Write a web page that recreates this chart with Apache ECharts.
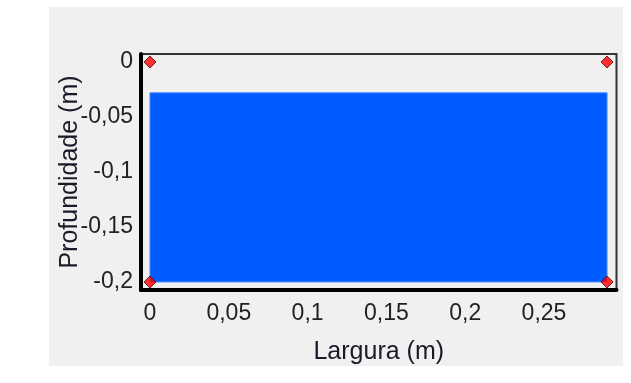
<!DOCTYPE html>
<html>
<head>
<meta charset="utf-8">
<script src="https://cdn.jsdelivr.net/npm/echarts@6/dist/echarts.min.js"></script>
<style>
  html, body { margin: 0; padding: 0; background: #ffffff; width: 631px; height: 383px; overflow: hidden; }
  #panel { position: absolute; left: 49px; top: 7px; width: 574px; height: 359px; background: #f0f0f0; }
</style>
</head>
<body>
<div id="panel"></div>
<script>
// Corner points of the section (Largura, Profundidade) in metres
const cornerX = [0, 0.29, 0, 0.29];
const cornerY = [0, 0, -0.2, -0.2];
// Filled (water) region: x from..to, y from..to
const fillX = [0, 0.29];
const fillY = [-0.028, -0.2];
// Axis ranges
const xRange = [-0.0057, 0.296];
const yRange = [-0.2073, 0.0073];
const xTitle = 'Largura (m)';
const yTitle = 'Profundidade (m)';

function fmt(v) {
  const k = v / 0.05;
  if (Math.abs(k - Math.round(k)) > 1e-6) return '';
  let s = (+v.toFixed(2)).toString();
  return s.replace('.', ',');
}

const points = cornerX.map((x, i) => [x, cornerY[i]]);
const FONT = 'Liberation Sans, Arial, sans-serif';

const chart = echarts.init(document.getElementById('panel'), null, { renderer: 'canvas' });
chart.setOption({
  animation: false,
  backgroundColor: '#f0f0f0',
  textStyle: { fontFamily: FONT },
  grid: {
    left: 92, top: 47, right: 6.5, bottom: 76,
    outerBoundsMode: 'none', containLabel: false,
    show: true, borderColor: '#333333', borderWidth: 2, backgroundColor: 'transparent'
  },
  xAxis: {
    type: 'value', min: xRange[0], max: xRange[1],
    name: xTitle, nameLocation: 'middle', nameGap: 50, nameMoveOverlap: false,
    nameTextStyle: { fontSize: 25, color: '#1a1a2a', fontFamily: FONT },
    axisLine: { show: true, onZero: false, lineStyle: { color: '#000', width: 4 } },
    axisTick: { show: false },
    splitLine: { show: false },
    axisLabel: { formatter: fmt, fontSize: 23, color: '#222', margin: 12, fontFamily: FONT }
  },
  yAxis: {
    type: 'value', min: yRange[0], max: yRange[1],
    name: yTitle, nameLocation: 'middle', nameGap: 58, nameMoveOverlap: false,
    nameTextStyle: { fontSize: 25, color: '#1a1a2a', fontFamily: FONT },
    axisLine: { show: true, onZero: false, lineStyle: { color: '#000', width: 4 } },
    axisTick: { show: false },
    splitLine: { show: false },
    axisLabel: { formatter: fmt, fontSize: 23, color: '#222', margin: 8, fontFamily: FONT }
  },
  series: [{
    type: 'scatter',
    data: points,
    symbol: 'diamond',
    symbolSize: 12,
    itemStyle: { color: '#ff0000', borderColor: '#500000', borderWidth: 1 },
    z: 5,
    markArea: {
      silent: true,
      itemStyle: { color: '#005cff', borderColor: '#4a8cff', borderWidth: 1 },
      data: [[{ coord: [fillX[0], fillY[0]] }, { coord: [fillX[1], fillY[1]] }]]
    }
  }]
});
</script>
</body>
</html>
